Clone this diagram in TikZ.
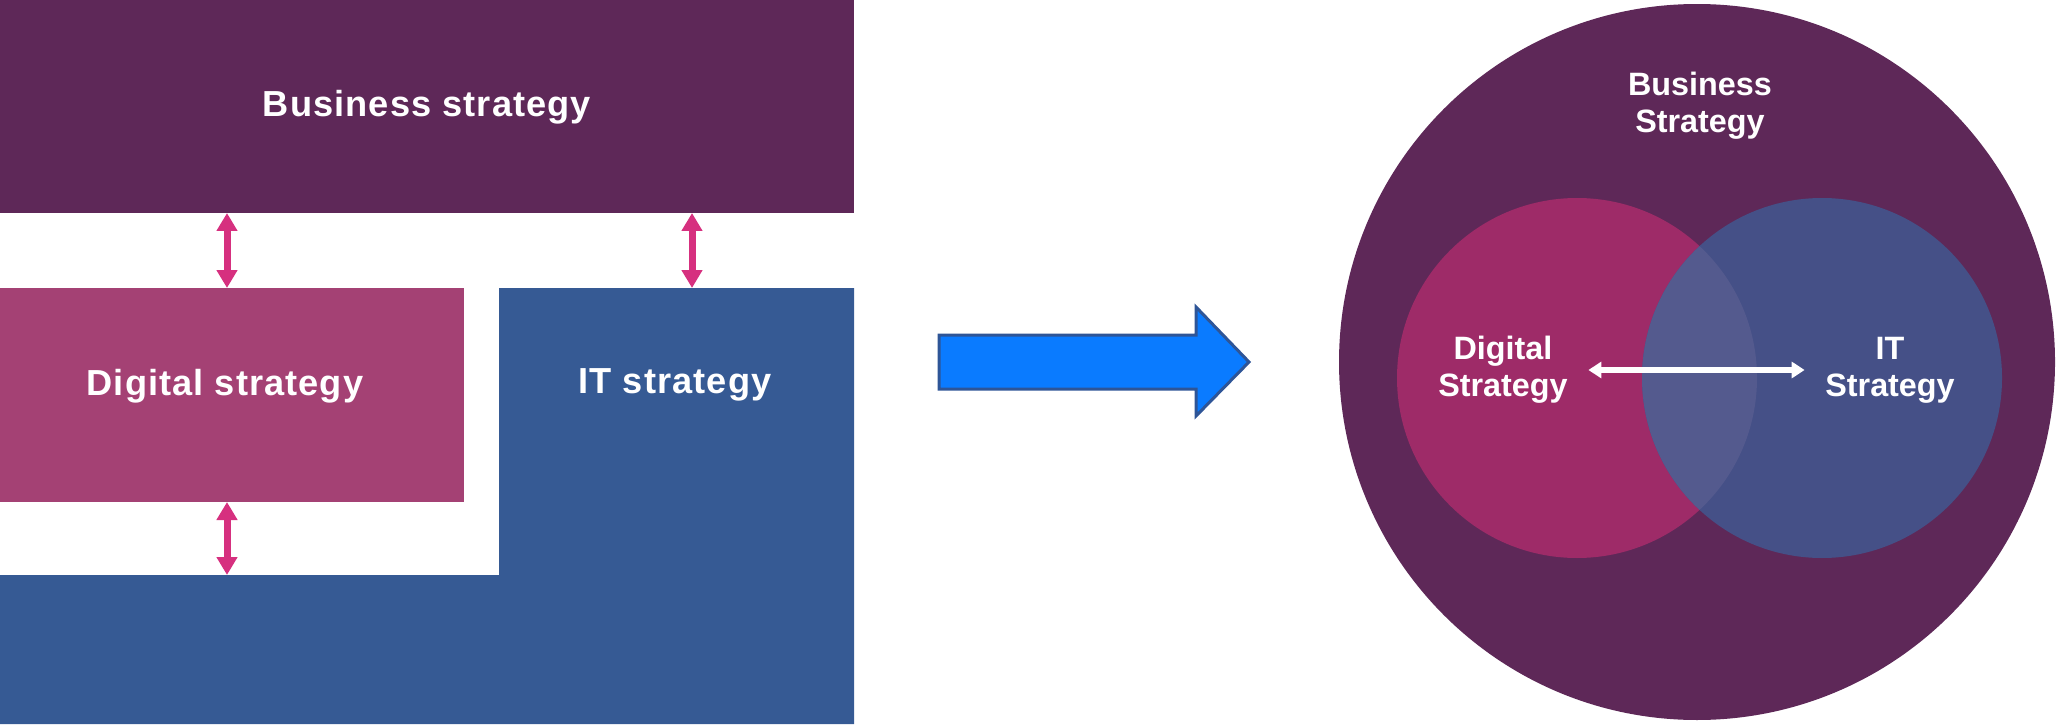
\documentclass[tikz,border=0pt]{standalone}
\usepackage{fontspec}
\setmainfont{Liberation Sans}
\newfontfamily\boxfont[LetterSpace=3]{Liberation Sans}
\usepackage{tikz}
\usetikzlibrary{positioning,arrows.meta}
\usepackage{xcolor}
\definecolor{bizpurple}{RGB}{94,40,88}
\definecolor{digmauve}{RGB}{164,65,116}
\definecolor{itblue}{RGB}{54,90,148}
\definecolor{linkpink}{RGB}{214,48,127}
\definecolor{shiftblue}{RGB}{10,123,255}
\definecolor{shiftedge}{RGB}{46,85,151}
\definecolor{digmagenta}{RGB}{158,43,104}
\definecolor{itnavy}{RGB}{69,80,135}
\definecolor{overlapblue}{RGB}{84,90,142}

\begin{document}
\begin{tikzpicture}[
  x=0.1mm, y=-0.1mm,
  panel/.style={rectangle, draw=none, inner sep=0pt, outer sep=0pt},
  boxtext/.style={text=white, anchor=base, inner sep=0pt,
                  font=\boxfont\fontsize{10.3}{12}\selectfont\bfseries},
  ringtext/.style={text=white, align=center, inner sep=0pt,
                   font=\fontsize{9.2}{10.5}\selectfont\bfseries},
  zone/.style={circle, draw=none, inner sep=0pt, outer sep=0pt},
  linkarrow/.style={{Triangle[width=2mm,length=1.8mm]}-{Triangle[width=2mm,length=1.8mm]},
                    linkpink, line width=0.7mm},
  whitearrow/.style={{Triangle[width=1.6mm,length=1.3mm]}-{Triangle[width=1.6mm,length=1.3mm]},
                     white, line width=0.6mm},
  bigarrow/.style={fill=shiftblue, draw=shiftedge, line width=0.3mm},
]
\useasboundingbox (0,0) rectangle (2057,724);
%─── Left panel: stacked boxes ─────────────────────────────────────────────
\begin{scope}
  \fill[itblue] (0,575) -- (499,575) -- (499,288) -- (854,288)
                -- (854,724) -- (0,724) -- cycle;
  \coordinate (itbar) at (227,575);
  \coordinate (ittop) at (692,288);
  \node[panel, fill=bizpurple, minimum width=85.4mm, minimum height=21.3mm]
    (biz) at (427,106.5) {};
  \node[panel, fill=digmauve, minimum width=46.4mm, minimum height=21.4mm]
    (dig) at (232,395) {};
  \node[boxtext] (biztxt) at (427,117) {Business strategy};
  \node[boxtext] (digtxt) at (225,395) {Digital strategy};
  \node[boxtext] (ittxt)  at (675,393) {IT strategy};
  \draw[linkarrow] (itbar |- biz.south) -- (itbar |- dig.north);
  \draw[linkarrow] (ittop |- biz.south) -- (ittop);
  \draw[linkarrow] (itbar |- dig.south) -- (itbar);
\end{scope}
%─── Middle: shift arrow ───────────────────────────────────────────────────
\draw[bigarrow] (939,335) -- (1196,335) -- (1196,307) -- (1249,362)
  -- (1196,416) -- (1196,389) -- (939,389) -- cycle;
%─── Right panel: nested circles ───────────────────────────────────────────
\begin{scope}
  \node[zone, fill=bizpurple, minimum size=71.6mm] (bizc) at (1697,362) {};
  \node[zone, fill=digmagenta, minimum size=36mm] (digc) at (1577,378) {};
  \node[zone, fill=itnavy, minimum size=36mm] (itc) at (1822,378) {};
  \begin{scope}
    \clip (digc.center) circle (18mm);
    \fill[overlapblue] (itc.center) circle (18mm);
  \end{scope}
  \node[ringtext] (bizlbl) at (1700,106) {Business\\Strategy};
  \node[ringtext] (diglbl) at (1503,370) {Digital\\Strategy};
  \node[ringtext] (itlbl)  at (1890,370) {IT\\Strategy};
  \draw[whitearrow] ([xshift=2mm]diglbl.east) -- ([xshift=-2mm]itlbl.west);
\end{scope}
\end{tikzpicture}
\end{document}
